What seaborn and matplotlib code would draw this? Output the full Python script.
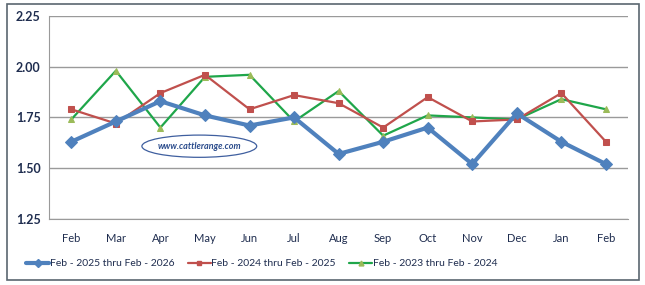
import matplotlib
matplotlib.use("Agg")
import matplotlib.pyplot as plt
from matplotlib.patches import Ellipse, Rectangle
from matplotlib.lines import Line2D
import seaborn as sns
import pandas as pd
import numpy as np

months = ["Feb", "Mar", "Apr", "May", "Jun", "Jul", "Aug", "Sep", "Oct", "Nov", "Dec", "Jan", "Feb"]
s2025 = [1.63, 1.73, 1.83, 1.76, 1.71, 1.75, 1.57, 1.63, 1.70, 1.52, 1.77, 1.63, 1.52]
s2024 = [1.79, 1.72, 1.87, 1.96, 1.79, 1.86, 1.82, 1.70, 1.85, 1.73, 1.74, 1.87, 1.63]
s2023 = [1.74, 1.98, 1.70, 1.95, 1.96, 1.73, 1.88, 1.66, 1.76, 1.75, 1.74, 1.84, 1.79]
names = ["Feb - 2025 thru Feb - 2026", "Feb - 2024 thru Feb - 2025", "Feb - 2023 thru Feb - 2024"]
yticks = [1.25, 1.50, 1.75, 2.00, 2.25]

rows = []
for name, vals in zip(names, [s2025, s2024, s2023]):
    for i, v in enumerate(vals):
        rows.append({"pos": i, "value": v, "series": name})
df = pd.DataFrame(rows)

sns.set_theme(style="white")
plt.rcParams["font.family"] = ["Lato", "DejaVu Sans"]

fig = plt.figure(figsize=(6.45, 2.85), dpi=100)
ax = fig.add_axes([0.076, 0.232, 0.898, 0.712])

palette = {names[0]: "#4F81BD", names[1]: "#C0504D", names[2]: "#1FA64A"}
markers = {names[0]: "D", names[1]: "s", names[2]: "^"}
sns.lineplot(data=df, x="pos", y="value", hue="series", style="series",
             palette=palette, markers=markers, dashes=False, ax=ax, legend=False)

lines = ax.get_lines()
styles = [
    dict(lw=3.0, ms=6.5, mfc="#4F81BD", mec="#4F81BD"),
    dict(lw=1.6, ms=4, mfc="#C0504D", mec="#C0504D"),
    dict(lw=1.6, ms=4.5, mfc="#9BBB59", mec="#9BBB59"),
]
for ln, st in zip(lines, styles):
    ln.set_linewidth(st["lw"])
    ln.set_markersize(st["ms"])
    ln.set_markerfacecolor(st["mfc"])
    ln.set_markeredgecolor(st["mec"])
lines[0].set_zorder(5)
lines[1].set_zorder(4)
lines[2].set_zorder(3)

ax.set_xlim(-0.5, len(months) - 0.5)
ax.set_ylim(1.25, 2.25)
ax.set_yticks(yticks)
ax.set_yticklabels([f"{t:.2f}" for t in yticks], fontsize=9, fontweight="bold", color="#1F2D4F")
ax.set_xticks(range(len(months)))
ax.set_xticklabels(months, fontsize=8, color="#1F2D4F")
ax.set_xticks(np.arange(-0.5, len(months), 1.0), minor=True)
ax.tick_params(axis="x", which="major", length=0, pad=10)
ax.tick_params(axis="x", which="minor", length=4, color="#808080", width=0.8, direction="out")
ax.tick_params(axis="y", length=0, pad=6)
ax.set_xlabel("")
ax.set_ylabel("")
ax.yaxis.grid(True, color="#9A9A9A", lw=1.0)
ax.set_axisbelow(True)
for side in ["top", "right"]:
    ax.spines[side].set_visible(False)
ax.spines["left"].set_color("#9A9A9A")
ax.spines["bottom"].set_color("#9A9A9A")
ax.spines["left"].set_linewidth(0.8)
ax.spines["bottom"].set_linewidth(0.8)

# watermark
ell = Ellipse((0.309, 0.487), 0.178, 0.078, transform=fig.transFigure,
              facecolor="white", edgecolor="#3F5F9F", lw=0.9, zorder=10)
fig.patches.append(ell)
fig.text(0.309, 0.487, "www.cattlerange.com", ha="center", va="center",
         fontsize=6.5, fontweight="bold", style="italic", color="#2B4C8C", zorder=11)

# legend
handles = [
    Line2D([], [], color="#4F81BD", lw=3, marker="D", ms=4.5, mfc="#4F81BD", mec="#4F81BD"),
    Line2D([], [], color="#C0504D", lw=1.6, marker="s", ms=3, mfc="#C0504D", mec="#C0504D"),
    Line2D([], [], color="#1FA64A", lw=1.6, marker="^", ms=3.5, mfc="#9BBB59", mec="#9BBB59"),
]
fig.legend(handles, names, loc="center", bbox_to_anchor=(0.406, 0.075), ncol=3,
           frameon=False, fontsize=7.5, handlelength=2.2, handletextpad=0.05,
           columnspacing=1.3, labelcolor="#1F2D4F")

# outer border
fig.patches.append(Rectangle((0.011, 0.016), 0.98, 0.97, transform=fig.transFigure,
                             fill=False, edgecolor="#5A6670", lw=1.2))

fig.savefig("out.png", dpi=100)
